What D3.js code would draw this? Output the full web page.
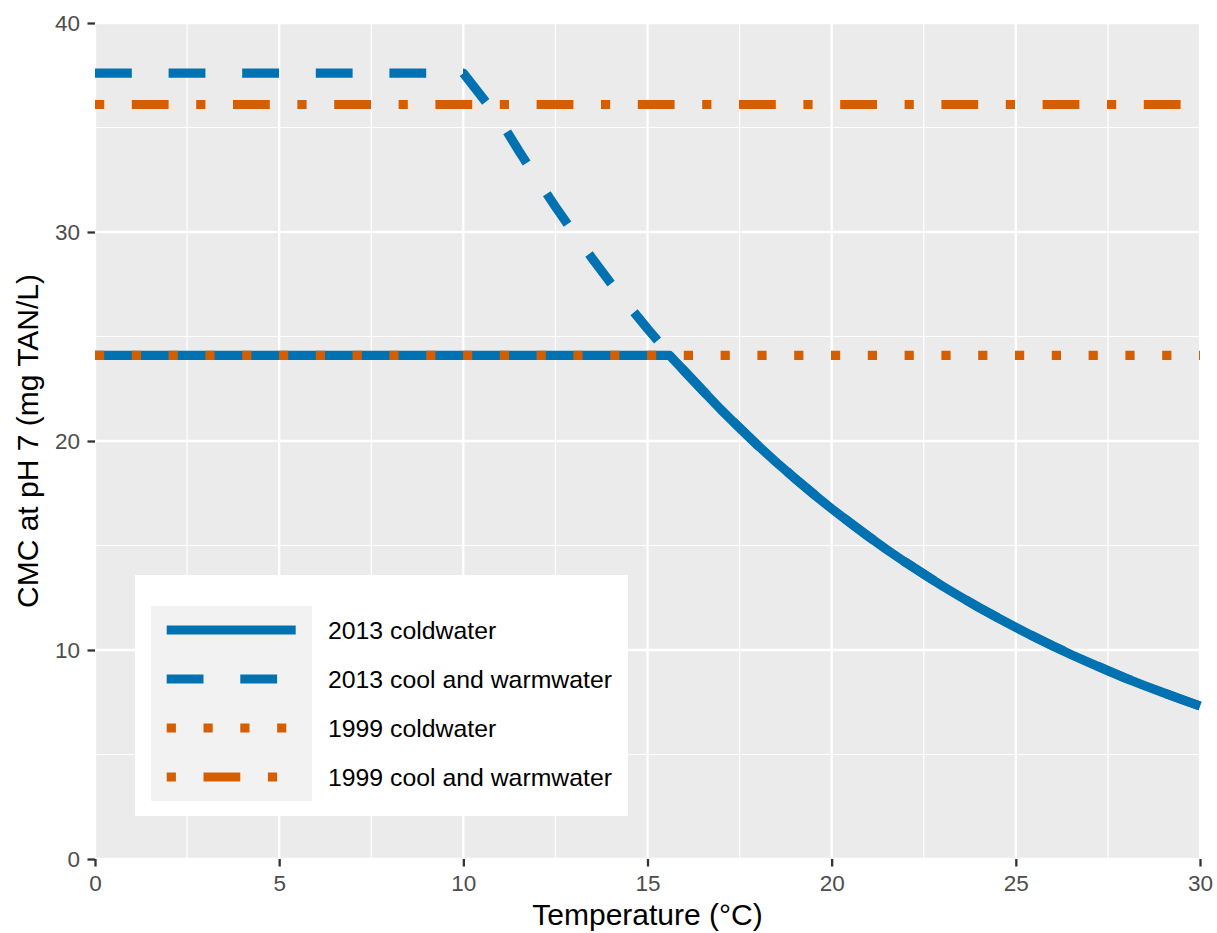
<!DOCTYPE html>
<html>
<head>
<meta charset="utf-8">
<script src="https://cdn.jsdelivr.net/npm/d3@7"></script>
<style>
  body { margin: 0; background: #fff; }
  svg { font-family: "Liberation Sans", Arial, sans-serif; }
</style>
</head>
<body>
<div class="chart"></div>
<script>
// values
const tempCold2013 = [0, 15.6, 16, 16.5, 17, 17.5, 18, 18.5, 19, 19.5, 20, 20.5, 21, 21.5, 22, 22.5, 23, 23.5, 24, 24.5, 25, 25.5, 26, 26.5, 27, 27.5, 28, 28.5, 29, 29.5, 30];
const cmcCold2013  = [24.1, 24.1, 23.35, 22.41, 21.49, 20.62, 19.78, 18.98, 18.21, 17.47, 16.76, 16.08, 15.43, 14.80, 14.20, 13.63, 13.07, 12.54, 12.03, 11.55, 11.08, 10.63, 10.20, 9.78, 9.39, 9.01, 8.64, 8.29, 7.96, 7.63, 7.32];
const tempWarm2013 = [0, 10, 11, 11.5, 12, 12.5, 13, 13.5, 14, 14.5, 15, 15.5, 16, 17, 18, 19, 20, 21, 22, 23, 24, 25, 26, 27, 28, 29, 30];
const cmcWarm2013  = [37.6, 37.6, 35.34, 33.90, 32.53, 31.21, 29.94, 28.73, 27.56, 26.45, 25.37, 24.34, 23.35, 21.49, 19.78, 18.21, 16.76, 15.43, 14.20, 13.07, 12.03, 11.08, 10.20, 9.39, 8.64, 7.96, 7.32];
const temp1999 = [0, 30];
const cmcCold1999 = [24.1, 24.1];
const cmcWarm1999 = [36.1, 36.1];

const seriesNames = ["2013 coldwater", "2013 cool and warmwater", "1999 coldwater", "1999 cool and warmwater"];
const xTicks = [0, 5, 10, 15, 20, 25, 30];
const xMinor = [2.5, 7.5, 12.5, 17.5, 22.5, 27.5];
const yTicks = [0, 10, 20, 30, 40];
const yMinor = [5, 15, 25, 35];

const w = 1217;
const h = 933;
const blue = "#0072B2";
const orange = "#D55E00";
const lw = 9.2;
const u = 9.2; // dash unit

const styles = [
  { color: blue, dash: null },
  { color: blue, dash: [4 * u, 4 * u].join(",") },
  { color: orange, dash: [u, 3 * u].join(",") },
  { color: orange, dash: [u, 3 * u, 4 * u, 3 * u].join(",") }
];

const svg = d3.select(".chart")
              .append("svg")
              .attr("width", w)
              .attr("height", h);

const xScale = d3.scaleLinear().domain([0, 30]).range([95, 1200]);
const yScale = d3.scaleLinear().domain([0, 40]).range([859, 23]);

// panel
svg.append("rect")
   .attr("x", xScale(0))
   .attr("y", yScale(40))
   .attr("width", xScale(30) - xScale(0))
   .attr("height", yScale(0) - yScale(40))
   .attr("fill", "#EBEBEB");

const grid = svg.append("g").attr("stroke", "#fff");
grid.selectAll(".xminor").data(xMinor).enter().append("line")
    .attr("x1", d => xScale(d)).attr("x2", d => xScale(d))
    .attr("y1", yScale(0)).attr("y2", yScale(40))
    .attr("stroke-width", 1.2);
grid.selectAll(".yminor").data(yMinor).enter().append("line")
    .attr("y1", d => yScale(d)).attr("y2", d => yScale(d))
    .attr("x1", xScale(0)).attr("x2", xScale(30))
    .attr("stroke-width", 1.2);
grid.selectAll(".xmajor").data(xTicks).enter().append("line")
    .attr("x1", d => xScale(d)).attr("x2", d => xScale(d))
    .attr("y1", yScale(0)).attr("y2", yScale(40))
    .attr("stroke-width", 2.3);
grid.selectAll(".ymajor").data(yTicks).enter().append("line")
    .attr("y1", d => yScale(d)).attr("y2", d => yScale(d))
    .attr("x1", xScale(0)).attr("x2", xScale(30))
    .attr("stroke-width", 2.3);

// axes
const xAxis = d3.axisBottom(xScale).tickValues(xTicks).tickSize(7.5).tickPadding(9);
const yAxis = d3.axisLeft(yScale).tickValues(yTicks).tickSize(7.5).tickPadding(7.5);

const gx = svg.append("g")
   .attr("transform", "translate(0, " + yScale(0) + ")")
   .call(xAxis);
const gy = svg.append("g")
   .attr("transform", "translate(" + xScale(0) + ", 0)")
   .call(yAxis);
[gx, gy].forEach(g => {
  g.select(".domain").remove();
  g.selectAll(".tick line").attr("stroke", "#333").attr("stroke-width", 2.3);
  g.selectAll(".tick text").attr("fill", "#4D4D4D").style("font-size", "22.5px")
   .style("font-family", "'Liberation Sans', Arial, sans-serif");
});

svg.append("text")
   .attr("x", (xScale(0) + xScale(30)) / 2)
   .attr("y", 925)
   .attr("text-anchor", "middle")
   .style("font-size", "30px")
   .text("Temperature (°C)");

svg.append("text")
   .attr("transform", "translate(38, " + (yScale(0) + yScale(40)) / 2 + ") rotate(-90)")
   .attr("text-anchor", "middle")
   .style("font-size", "30px")
   .text("CMC at pH 7 (mg TAN/L)");

// lines
const series = [
  tempCold2013.map((t, i) => [t, cmcCold2013[i]]),
  tempWarm2013.map((t, i) => [t, cmcWarm2013[i]]),
  temp1999.map((t, i) => [t, cmcCold1999[i]]),
  temp1999.map((t, i) => [t, cmcWarm1999[i]])
];

const line = d3.line()
               .x(d => xScale(d[0]))
               .y(d => yScale(d[1]));

svg.selectAll(".series")
   .data(series)
   .enter()
   .append("path")
   .attr("class", "series")
   .attr("d", d => line(d))
   .attr("fill", "none")
   .attr("stroke", (d, i) => styles[i].color)
   .attr("stroke-width", lw)
   .attr("stroke-dasharray", (d, i) => styles[i].dash)
   .attr("stroke-linejoin", "round")
   .attr("stroke-linecap", "butt");

// legend
const legend = svg.append("g");
legend.append("rect")
      .attr("x", 135).attr("y", 575)
      .attr("width", 493).attr("height", 241)
      .attr("fill", "#fff");
legend.append("rect")
      .attr("x", 151).attr("y", 606)
      .attr("width", 161).attr("height", 195)
      .attr("fill", "#F2F2F2");

const rows = legend.selectAll(".key")
      .data(seriesNames)
      .enter()
      .append("g")
      .attr("transform", (d, i) => "translate(0, " + (630 + i * 49) + ")");
rows.append("line")
    .attr("x1", 166.7).attr("x2", 295.7)
    .attr("stroke", (d, i) => styles[i].color)
    .attr("stroke-width", lw)
    .attr("stroke-dasharray", (d, i) => styles[i].dash);
rows.append("text")
    .attr("x", 328)
    .attr("y", 9)
    .style("font-size", "24.8px")
    .text(d => d);
</script>
</body>
</html>
